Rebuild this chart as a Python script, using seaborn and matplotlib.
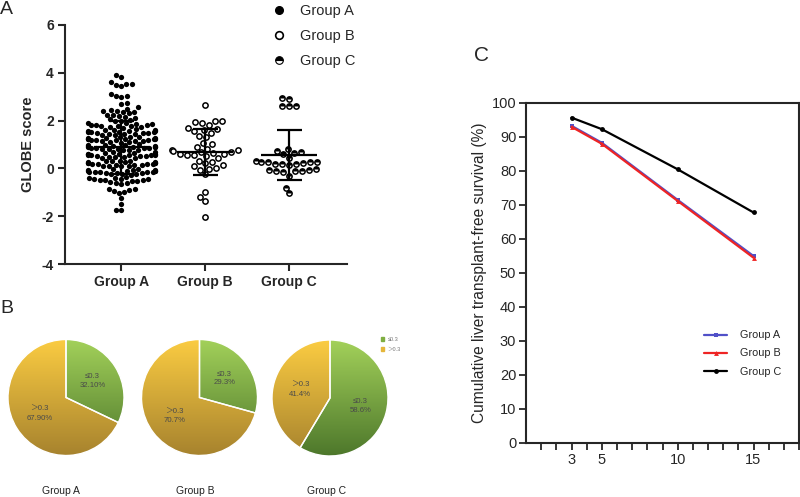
import numpy as np
import pandas as pd
import matplotlib
matplotlib.use('Agg')
import matplotlib.pyplot as plt
import matplotlib.colors as mcolors
from matplotlib.lines import Line2D
from matplotlib.patches import Patch
from matplotlib.markers import MarkerStyle
import seaborn as sns

# ---------------- data ----------------
groups = ['Group A', 'Group B', 'Group C']

score_a = [
    3.9, 3.82, 3.6, 3.55, 3.55, 3.5, 3.45, 3.1, 3.05, 3.02, 3.0,
    2.75, 2.7, 2.55, 2.5, 2.45, 2.42, 2.4, 2.38, 2.35, 2.3, 2.25, 2.22, 2.2,
    2.15, 2.1, 2.05, 2.02, 2.0, 1.98,
    1.9, 1.88, 1.86, 1.84, 1.83, 1.81, 1.8, 1.79, 1.77, 1.76, 1.74, 1.72, 1.7,
    1.64, 1.62, 1.61, 1.59, 1.58, 1.56, 1.55, 1.54, 1.53, 1.52, 1.51, 1.5, 1.49,
    1.47, 1.46, 1.44, 1.43, 1.41, 1.4,
    1.33, 1.32, 1.3, 1.29, 1.27, 1.26, 1.25, 1.24, 1.23, 1.22, 1.21, 1.2, 1.19,
    1.18, 1.17, 1.16, 1.14, 1.13, 1.11, 1.1, 1.08,
    1.0, 0.99, 0.97, 0.96, 0.94, 0.93, 0.92, 0.91, 0.9, 0.89, 0.88, 0.87, 0.86,
    0.85, 0.84, 0.83, 0.81, 0.8, 0.78, 0.77, 0.75,
    0.68, 0.67, 0.65, 0.64, 0.62, 0.61, 0.6, 0.59, 0.58, 0.57, 0.56, 0.55, 0.54,
    0.53, 0.52, 0.51, 0.49, 0.48, 0.46, 0.45, 0.43,
    0.33, 0.32, 0.3, 0.29, 0.27, 0.26, 0.25, 0.24, 0.23, 0.22, 0.21, 0.2, 0.19,
    0.18, 0.17, 0.16, 0.15, 0.13, 0.12, 0.1, 0.09, 0.08,
    -0.02, -0.03, -0.05, -0.06, -0.08, -0.09, -0.1, -0.11, -0.12, -0.13, -0.14,
    -0.15, -0.16, -0.17, -0.18, -0.19, -0.21, -0.22, -0.24, -0.25, -0.27,
    -0.38, -0.4, -0.42, -0.43, -0.45, -0.46, -0.48, -0.49, -0.5, -0.52, -0.54, -0.56,
    -0.6, -0.62, -0.65, -0.85, -0.88, -0.92, -0.95, -1.0, -1.05, -1.25, -1.5,
    -1.72, -1.75,
]
score_b = [
    2.65, 2.0, 1.97, 1.93, 1.88, 1.82, 1.7, 1.65, 1.6, 1.55, 1.5, 1.35, 1.3,
    1.05, 1.0, 0.9, 0.82, 0.78, 0.76, 0.72, 0.7, 0.67, 0.64, 0.62, 0.6, 0.57,
    0.55, 0.5, 0.45, 0.32, 0.28, 0.22, 0.15, 0.1, 0.02, -0.02, -0.05, -0.25,
    -0.98, -1.2, -1.38, -2.05,
]
score_c = [
    2.93, 2.9, 2.63, 2.6, 2.6, 0.8, 0.73, 0.68, 0.65, 0.6, 0.45,
    0.3, 0.28, 0.25, 0.25, 0.22, 0.2, 0.2, 0.18, 0.15, 0.25,
    -0.02, -0.05, -0.08, -0.1, -0.1, -0.12, -0.15, -0.3, -0.8, -1.05,
]

pie_labels = ['≤0.3', '＞0.3']
pie_a = [32.10, 67.90]
pie_b = [29.3, 70.7]
pie_c = [58.6, 41.4]
pie_pct_a = ['32.10%', '67.90%']
pie_pct_b = ['29.3%', '70.7%']
pie_pct_c = ['58.6%', '41.4%']

years = [3, 5, 10, 15]
surv_a = [93.3, 88.3, 71.5, 55.0]
surv_b = [93.0, 88.0, 71.2, 54.5]
surv_c = [95.7, 92.3, 80.5, 67.8]
year_ticks = list(range(1, 19))
year_shown = [3, 5, 10, 15]
surv_ticks = list(range(0, 101, 10))

# ---------------- style ----------------
W, H = 800, 497
sns.set_style('ticks')
plt.rcParams['font.family'] = ['Liberation Sans', 'Noto Sans CJK SC', 'DejaVu Sans']
plt.rcParams['axes.linewidth'] = 1.5
plt.rcParams['axes.unicode_minus'] = False
fig = plt.figure(figsize=(W / 100, H / 100), dpi=100)


def fx(px):
    return px / W


def fy(py):
    return 1 - py / H


# ---------------- panel A ----------------
axA = fig.add_axes([fx(65), fy(264), fx(282), 239 / H])
df_a = pd.DataFrame({
    'group': ['Group A'] * len(score_a) + ['Group B'] * len(score_b) + ['Group C'] * len(score_c),
    'score': score_a + score_b + score_c,
})
sns.swarmplot(data=df_a, x='group', y='score', order=groups, color='black',
              size=3.8, ax=axA, warn_thresh=1.0)
colls = list(axA.collections[:3])
colls[0].set_linewidth(0)
for c in colls[1:]:
    c.set_facecolor('white')
    c.set_edgecolor('black')
    c.set_linewidth(1.1)
axA.set_xlim(-0.67, 2.69)
axA.set_ylim(-4, 6)
axA.set_yticks([-4, -2, 0, 2, 4, 6])
fig.canvas.draw()
off_c = colls[2].get_offsets()
axA.scatter(off_c[:, 0], off_c[:, 1], marker=MarkerStyle('o', fillstyle='top'),
            s=colls[2].get_sizes()[0], color='black', linewidth=0,
            zorder=colls[2].get_zorder() + 0.1)

stats = df_a.groupby('group')['score'].agg(['mean', 'std']).reindex(groups)
for i, g in enumerate(groups):
    m, s = stats.loc[g, 'mean'], stats.loc[g, 'std']
    axA.hlines(m, i - 0.33, i + 0.33, color='black', lw=1.6, zorder=6)
    axA.vlines(i, m - s, m + s, color='black', lw=1.6, zorder=6)
    axA.hlines([m - s, m + s], i - 0.15, i + 0.15, color='black', lw=1.6, zorder=6)

sns.despine(ax=axA)
axA.tick_params(axis='both', length=5, width=1.5, labelsize=10, pad=3)
for t in axA.get_xticklabels() + axA.get_yticklabels():
    t.set_fontweight('bold')
axA.set_xlabel('')
axA.set_ylabel('GLOBE score', fontsize=10.5, fontweight='bold', labelpad=5)

legA_handles = [
    Line2D([], [], marker='o', ls='none', mfc='black', mec='black', ms=5.5),
    Line2D([], [], marker='o', ls='none', mfc='white', mec='black', mew=1.2, ms=5.5),
    Line2D([], [], marker='o', ls='none', fillstyle='top', mfc='black',
           mfcalt='white', mec='black', mew=0.8, ms=5.5),
]
fig.legend(legA_handles, groups, loc='upper left', bbox_to_anchor=(fx(270), fy(2)),
           frameon=False, fontsize=10.5, handlelength=1.0, handletextpad=0.9,
           labelspacing=0.75, borderaxespad=0, borderpad=0.15)

# ---------------- panel B (pies) ----------------
green_top, green_bot = mcolors.to_rgb('#a3d15a'), mcolors.to_rgb('#4d772b')
yellow_top, yellow_bot = mcolors.to_rgb('#fbcc42'), mcolors.to_rgb('#a7832e')
pie_sets = [(pie_a, pie_pct_a, (66, 397.5)), (pie_b, pie_pct_b, (199.5, 397.5)),
            (pie_c, pie_pct_c, (330, 398))]
R = 58
tgrid = np.linspace(0, 1, 256)[:, None, None]
for vals, pcts, (cx, cy) in pie_sets:
    axp = fig.add_axes([fx(cx - R), fy(cy + R), 2 * R / W, 2 * R / H])
    texts = [f'{lab}\n{p}' for lab, p in zip(pie_labels, pcts)]
    wedges, txts = axp.pie(vals, colors=['#7fae42', '#e5b63a'], startangle=90,
                           counterclock=False, labels=texts, labeldistance=0.54,
                           wedgeprops=dict(edgecolor='white', linewidth=1.0),
                           textprops=dict(ha='center', va='center', fontsize=5.6,
                                          color='#4a4a4a', linespacing=1.35))
    for w, (ctop, cbot) in zip(wedges, [(green_top, green_bot), (yellow_top, yellow_bot)]):
        img = np.array(ctop)[None, None, :] * (1 - tgrid) + np.array(cbot)[None, None, :] * tgrid
        im = axp.imshow(img, extent=(-1, 1, -1, 1), aspect='auto', origin='upper',
                        interpolation='bilinear', zorder=0.5)
        im.set_clip_path(w)
        w.set_facecolor('none')
        w.set_zorder(1)
    for t in txts:
        t.set_zorder(3)
    axp.set_xlim(-1, 1)
    axp.set_ylim(-1, 1)
    axp.set_aspect('auto')
    axp.axis('off')

for name, cx in zip(groups, [61, 195, 327]):
    fig.text(fx(cx), fy(491), name, ha='center', va='center', fontsize=7.5, color='#222222')

fig.legend([Patch(color='#7fae42'), Patch(color='#e5b63a')], pie_labels,
           loc='upper left', bbox_to_anchor=(fx(381), fy(337)), frameon=False,
           fontsize=4, handlelength=0.6, handleheight=0.6, handletextpad=0.6,
           labelspacing=0.9, labelcolor='#777777', borderaxespad=0, borderpad=0)

# ---------------- panel C ----------------
axC = fig.add_axes([fx(526), fy(443), fx(273), 340 / H])
df_c = pd.DataFrame({
    'year': years * 3,
    'survival': surv_a + surv_b + surv_c,
    'group': ['Group A'] * len(years) + ['Group B'] * len(years) + ['Group C'] * len(years),
})
sns.lineplot(data=df_c, x='year', y='survival', hue='group', style='group',
             hue_order=groups, style_order=groups,
             palette={'Group A': '#5050c8', 'Group B': '#ee2424', 'Group C': 'black'},
             markers={'Group A': 's', 'Group B': '^', 'Group C': 'o'}, dashes=False,
             markersize=3.5, linewidth=1.6, markeredgewidth=0, ax=axC)
axC.set_xlim(0, 18)
axC.set_ylim(0, 100)
axC.set_yticks(surv_ticks)
axC.set_xticks(year_ticks)
axC.set_xticklabels([str(t) if t in year_shown else '' for t in year_ticks])
axC.tick_params(axis='both', length=5, width=1.3, labelsize=10.5, pad=2)
for sp in axC.spines.values():
    sp.set_linewidth(1.5)
axC.set_xlabel('')
axC.set_ylabel('Cumulative liver transplant-free survival (%)', fontsize=11.2, labelpad=3)
h, l = axC.get_legend_handles_labels()
axC.legend(h, l, loc='upper left', bbox_to_anchor=(0.615, 0.36), frameon=False,
           fontsize=7.8, handlelength=2.2, labelspacing=0.75, handletextpad=1.2)

# ---------------- panel letters ----------------
fig.text(fx(0), fy(1), 'A', fontsize=14, va='top', ha='left')
fig.text(fx(0), fy(300), 'B', fontsize=14, va='top', ha='left')
fig.text(fx(474), fy(46), 'C', fontsize=15, va='top', ha='left')

fig.savefig('out.png', dpi=100)
